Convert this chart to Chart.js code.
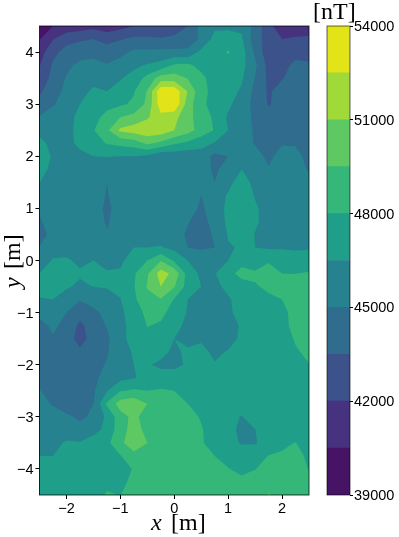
<!DOCTYPE html>
<html>
<head>
<meta charset="utf-8">
<script src="https://cdn.jsdelivr.net/npm/chart.js@4"></script>
<style>
html, body { margin: 0; padding: 0; background: #fff; }
#wrap { position: relative; width: 399px; height: 537px; overflow: hidden; }
canvas { position: absolute; left: 0; top: 0; }
</style>
</head>
<body>
<div id="wrap">
<canvas id="field" width="399" height="537"></canvas>
<canvas id="bar" width="399" height="537"></canvas>
</div>
<script>
const xValues = [-2.5,-2.25,-2,-1.75,-1.5,-1.25,-1,-0.75,-0.5,-0.25,0,0.25,0.5,0.75,1,1.25,1.5,1.75,2,2.25,2.5];
const yValues = [4.5,4.25,4,3.75,3.5,3.25,3,2.75,2.5,2.25,2,1.75,1.5,1.25,1,0.75,0.5,0.25,0,-0.25,-0.5,-0.75,-1,-1.25,-1.5,-1.75,-2,-2.25,-2.5,-2.75,-3,-3.25,-3.5,-3.75,-4,-4.25,-4.5];
// one row per y value (nT)
const fieldRows = [
  [39500,40500,41000,41200,41500,41000,41500,42000,42000,42500,43000,43500,45500,46200,46200,46200,44500,42500,41000,41000,41000],
  [40400,41900,43000,43300,43500,43100,43400,43800,43800,43600,43700,44300,45200,47000,47200,46700,44200,42800,42000,42200,42300],
  [41300,43100,44000,44400,44600,44100,44500,45300,45300,45400,45400,45300,46900,47500,48100,47200,44700,42500,42800,43200,43200],
  [41900,43700,44700,45300,45400,45100,45700,46200,46600,47000,48200,48300,47500,47400,47500,47000,45300,43000,43200,43700,43600],
  [42400,44000,45100,45700,46100,45800,46400,47000,48500,50200,50200,49400,48400,47300,47300,46700,44900,43200,43400,44200,44200],
  [43200,44500,45300,46100,46700,46500,47000,47900,49600,53600,53600,50900,48400,47600,47100,46300,44600,43300,44100,44300,44300],
  [44000,44900,45500,46500,47200,47500,47800,48200,49900,53300,53800,50300,48300,47500,46800,45700,44600,43400,44000,44400,44400],
  [45100,45500,46100,46800,47500,48500,49500,50000,50800,52100,51500,49900,48900,47700,46300,45700,44700,44000,44200,44400,44400],
  [46300,46100,46200,46800,47900,49200,51300,51700,52000,51900,51000,50100,48900,47900,46500,45800,44800,44200,44200,44300,44300],
  [46700,46300,46100,46800,47300,48100,48400,48700,49800,49100,48200,47700,47000,46400,45900,45700,44900,44500,44900,44900,44500],
  [47000,46400,46200,46200,46500,46550,46500,46500,46200,45300,45500,45500,45800,44600,45000,45900,45500,44700,45500,45300,44700],
  [46800,46300,46000,46000,46000,45700,46000,46000,46000,46000,46000,46000,45800,44700,45700,46500,45800,45100,45500,45400,44900],
  [46520,46000,45900,45900,45800,45000,45800,45900,46000,46000,46000,46000,46000,45000,46200,47000,46200,45600,45600,45500,45300],
  [45800,45900,45900,45900,45800,44900,45700,45900,46000,46000,45900,45800,45000,46000,46600,47300,46400,45800,45700,45600,45500],
  [45200,45800,45900,45800,45700,44700,45600,45800,45900,45900,45800,45500,44800,45600,46900,47600,46700,45900,45800,45800,45700],
  [44850,45600,45800,45800,45700,44850,45600,45800,45900,45900,45700,45100,44400,45600,46800,47400,46700,46000,46000,45900,45900],
  [44550,45350,45700,45800,45700,45100,45600,45800,45900,45800,45600,44800,44300,45200,46600,47300,46450,46100,46100,46000,46000],
  [45050,46000,46200,46100,46100,45900,45900,46500,46500,46600,46100,45000,44800,45000,46400,46600,46500,46300,46300,46200,46300],
  [45900,46600,46600,46350,46500,46200,46200,47300,48000,49400,47800,46500,46000,46000,46500,47700,47300,47900,47700,47500,47400],
  [46500,46800,46700,46600,46700,46600,46700,47800,49300,51700,50550,47400,46200,46400,47700,48300,48200,48400,48000,47980,48100],
  [47000,46900,46600,46350,46520,46550,46800,47900,49600,51000,49600,47400,46500,46100,46900,47600,47900,48200,48300,48500,48700],
  [46400,46500,46100,45100,45700,46200,46450,47700,49100,49400,47900,46500,45900,45800,46300,47200,47500,47800,48000,48400,48700],
  [45400,46000,45000,44000,44600,45500,46300,47000,48500,48400,47400,46400,45900,45700,46300,46900,47300,47400,47600,48500,48700],
  [44500,45300,44500,43200,44100,45100,46200,46900,48050,47800,46900,46200,45900,45600,45800,46700,47200,47500,47700,48300,48600],
  [44600,44850,44000,43100,43900,44670,46200,46900,47700,47300,46500,46100,46300,45900,45900,46800,47300,47500,47500,48100,48400],
  [44400,44400,44200,43700,44200,44850,46100,46600,46900,46800,46300,46700,46900,46200,46600,46900,47200,47400,47500,47900,48200],
  [44300,44400,44400,44300,44600,45100,45900,46500,46600,46300,46300,46600,46900,46600,46900,47100,47300,47400,47500,47700,47980],
  [44700,44500,44400,44400,44600,45600,46100,46400,46900,46900,46900,47000,47100,47000,47100,47200,47300,47300,47300,47400,47600],
  [45050,44600,44400,44300,44800,46400,47900,48200,48000,48200,48000,47800,47500,47400,47300,47200,47200,47200,47200,47200,47400],
  [45400,44900,44400,44200,45000,48200,50200,50600,49500,48700,48500,48000,47600,47500,47200,47000,47200,47200,47200,47100,47200],
  [45800,45500,45200,44800,45200,46800,48900,49900,48800,48600,48500,48400,47900,47300,46800,46450,47000,47200,47200,47100,47000],
  [45600,45400,45600,45400,46000,46900,48900,50100,49100,48700,48600,48500,48100,47400,46900,46200,46480,47000,47300,47400,47200],
  [46000,46000,46700,46600,47200,47600,49200,50300,49500,48900,48800,48500,48200,47200,46900,46400,46400,47100,47700,48050,47300],
  [46500,46500,46900,47000,47200,47500,47900,49100,48900,48800,48700,48400,48200,48000,47600,47200,47400,48050,48200,48500,47700],
  [47300,47400,47400,47500,47500,47600,47700,48050,48600,48700,48700,48500,48400,48400,48050,47700,47970,48400,48700,48600,47950],
  [47400,47500,47500,47500,47500,47800,47850,48150,48600,48700,48800,48700,48700,48600,48400,48300,48400,48800,48900,48800,48300],
  [47400,47500,47400,47400,47600,48090,47980,48400,48600,48700,48800,48800,48900,48900,49000,48450,49000,49600,49100,48900,48700]
];
const levels = [39000,40500,42000,43500,45000,46500,48000,49500,51000,52500,54000];
const bandColors = ['#471365','#46327e','#3b528b','#2f6c8e','#26828e','#1f9e89','#35b779','#5ec962','#a0da39','#e2e418'];
const xTicks = [-2,-1,0,1,2];
const yTicks = [-4,-3,-2,-1,0,1,2,3,4];
const barTicks = [39000,42000,45000,48000,51000,54000];

const tickFont = { family: 'Liberation Sans', size: 14.5 };
const minus = v => String(v).replace('-', '\u2212');

// keep the part of a cell polygon at or above a level
function clipAbove(poly, lo) {
    const out = [];
    for (let i = 0; i < poly.length; i++) {
        const a = poly[i], b = poly[(i + 1) % poly.length];
        if (a.z >= lo) out.push(a);
        if ((a.z >= lo) !== (b.z >= lo)) {
            const t = (lo - a.z) / (b.z - a.z);
            out.push({ x: a.x + t * (b.x - a.x), y: a.y + t * (b.y - a.y), z: lo });
        }
    }
    return out;
}

const contourPlugin = {
    id: 'contour',
    beforeDatasetsDraw(chart) {
        const ctx = chart.ctx, sx = chart.scales.x, sy = chart.scales.y;
        ctx.save();
        for (let k = 0; k < bandColors.length; k++) {
            ctx.beginPath();
            for (let j = 0; j < yValues.length - 1; j++) {
                for (let i = 0; i < xValues.length - 1; i++) {
                    const cell = [[i, j], [i + 1, j], [i + 1, j + 1], [i, j + 1]].map(c => ({
                        x: sx.getPixelForValue(xValues[c[0]]),
                        y: sy.getPixelForValue(yValues[c[1]]),
                        z: fieldRows[c[1]][c[0]]
                    }));
                    const poly = clipAbove(cell, levels[k]);
                    if (poly.length < 3) continue;
                    ctx.moveTo(poly[0].x, poly[0].y);
                    for (let p = 1; p < poly.length; p++) ctx.lineTo(poly[p].x, poly[p].y);
                    ctx.closePath();
                }
            }
            ctx.fillStyle = bandColors[k];
            ctx.fill();
        }
        ctx.restore();
    },
    afterDraw(chart) {
        const ctx = chart.ctx, a = chart.chartArea;
        ctx.save();
        ctx.strokeStyle = 'rgba(0,0,0,0.75)';
        ctx.lineWidth = 1;
        ctx.strokeRect(a.left, a.top, a.right - a.left, a.bottom - a.top);
        ctx.fillStyle = '#000';
        ctx.textBaseline = 'alphabetic';
        ctx.font = 'italic 24px "Liberation Serif"';
        ctx.fillText('x', 151, 530);
        ctx.font = '24px "Liberation Serif"';
        ctx.fillText('[m]', 171, 530);
        ctx.translate(20, 288);
        ctx.rotate(-Math.PI / 2);
        ctx.font = 'italic 24px "Liberation Serif"';
        ctx.fillText('y', 0, 0);
        ctx.font = '24px "Liberation Serif"';
        ctx.fillText('[m]', 19, 0);
        ctx.restore();
    }
};

new Chart(document.getElementById('field'), {
    type: 'scatter',
    data: {
        datasets: [{
            data: fieldRows.flatMap((row, j) => row.map((z, i) => ({ x: xValues[i], y: yValues[j], z: z }))),
            pointRadius: 0
        }]
    },
    options: {
        responsive: false,
        animation: false,
        layout: { padding: { left: 0, right: 90, top: 26, bottom: 0 } },
        plugins: { legend: { display: false }, tooltip: { enabled: false } },
        scales: {
            x: {
                type: 'linear', min: -2.5, max: 2.5,
                afterBuildTicks: s => { s.ticks = xTicks.map(v => ({ value: v })); },
                afterFit: s => { s.height = 42; },
                grid: { drawOnChartArea: false, tickLength: 4, tickColor: '#000' },
                border: { display: false },
                ticks: { color: '#000', font: tickFont, padding: 1, maxRotation: 0, callback: minus }
            },
            y: {
                type: 'linear', min: -4.5, max: 4.5,
                afterBuildTicks: s => { s.ticks = yTicks.map(v => ({ value: v })); },
                afterFit: s => { s.width = 39.5; },
                grid: { drawOnChartArea: false, tickLength: 4, tickColor: '#000' },
                border: { display: false },
                ticks: { color: '#000', font: tickFont, padding: 2, labelOffset: 1, callback: minus }
            }
        }
    },
    plugins: [contourPlugin]
});

const barLabelPlugin = {
    id: 'barLabel',
    afterDraw(chart) {
        const ctx = chart.ctx, a = chart.chartArea;
        ctx.save();
        ctx.strokeStyle = 'rgba(0,0,0,0.6)';
        ctx.lineWidth = 1;
        ctx.strokeRect(a.left, a.top, a.right - a.left, a.bottom - a.top);
        ctx.fillStyle = '#000';
        ctx.font = '24px "Liberation Serif"';
        ctx.fillText('[nT]', 313, 19);
        ctx.restore();
    }
};

new Chart(document.getElementById('bar'), {
    type: 'bar',
    data: {
        labels: ['nT'],
        datasets: bandColors.map((c, k) => ({
            data: [[levels[k], levels[k + 1]]],
            backgroundColor: c,
            borderWidth: 0,
            grouped: false,
            barPercentage: 1,
            categoryPercentage: 1
        }))
    },
    options: {
        responsive: false,
        animation: false,
        layout: { padding: { left: 327, right: 0, top: 26, bottom: 42 } },
        plugins: { legend: { display: false }, tooltip: { enabled: false } },
        scales: {
            x: { display: false },
            y: {
                position: 'right', min: 39000, max: 54000,
                afterBuildTicks: s => { s.ticks = barTicks.map(v => ({ value: v })); },
                afterFit: s => { s.width = 49; },
                grid: { drawOnChartArea: false, tickLength: 3, tickColor: '#000' },
                border: { display: false },
                ticks: { color: '#000', font: tickFont, padding: 1, labelOffset: 1, callback: v => String(v) }
            }
        }
    },
    plugins: [barLabelPlugin]
});
</script>
</body>
</html>
